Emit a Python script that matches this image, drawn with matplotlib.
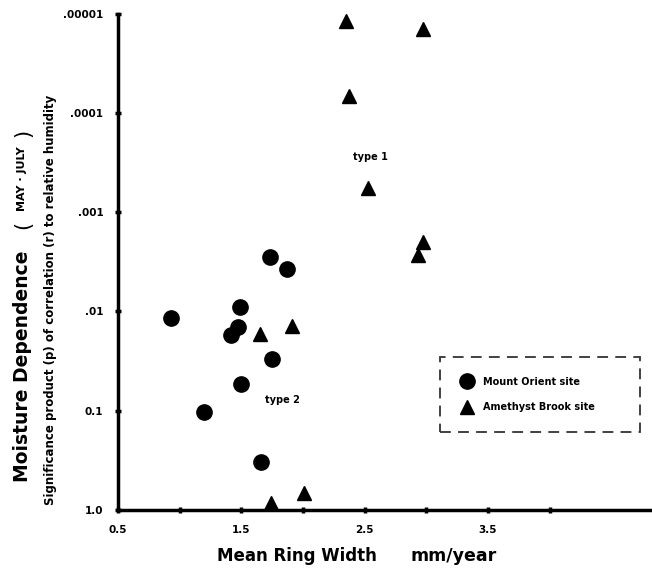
import numpy as np
import matplotlib
matplotlib.use("Agg")
import matplotlib.pyplot as plt

# Mount Orient site (circles): mean ring width (mm/yr), significance p
orient_width = [1.73, 1.87, 1.49, 0.93, 1.47, 1.42, 1.75, 1.50, 1.20, 1.66]
orient_p = [0.0028, 0.0037, 0.009, 0.0117, 0.0144, 0.0172, 0.030, 0.054, 0.102, 0.325]

# Amethyst Brook site (triangles)
brook_width = [2.35, 2.97, 2.37, 2.53, 2.97, 2.93, 1.65, 1.91, 2.01, 1.74]
brook_p = [1.17e-5, 1.42e-5, 6.8e-5, 5.7e-4, 0.0020, 0.0027, 0.0167, 0.0141, 0.68, 0.85]

ytick_vals = [1.0, 0.1, 0.01, 0.001, 0.0001, 0.00001]
ytick_labels = ['1.0', '0.1', '.01', '.001', '.0001', '.00001']
xtick_vals = [0.5, 1.0, 1.5, 2.0, 2.5, 3.0, 3.5, 4.0]
xtick_labels = ['0.5', '', '1.5', '', '2.5', '', '3.5', '']

fig = plt.figure(figsize=(6.52, 5.73), dpi=100)
ax = fig.add_axes([0.181, 0.110, 0.819, 0.866])

ax.plot(orient_width, orient_p, 'o', color='black', markersize=11, label='Mount Orient site', clip_on=False)
ax.plot(brook_width, brook_p, '^', color='black', markersize=10, label='Amethyst Brook site', clip_on=False)

ax.set_yscale('log')
ax.set_ylim(1.0, 1e-5)
ax.set_xlim(0.5, 4.83)
ax.minorticks_off()
ax.set_yticks(ytick_vals)
ax.set_yticklabels(ytick_labels)
ax.set_xticks(xtick_vals)
ax.set_xticklabels(xtick_labels)
ax.tick_params(direction='inout', length=5, width=2.5, labelsize=7.5, pad=8)
for lab in ax.get_xticklabels() + ax.get_yticklabels():
    lab.set_fontweight('heavy')

for s in ['top', 'right']:
    ax.spines[s].set_visible(False)
for s in ['left', 'bottom']:
    ax.spines[s].set_linewidth(2.5)

ax.text(2.55, 0.00028, 'type 1', fontsize=7, fontweight='bold', ha='center', va='center')
ax.text(1.83, 0.078, 'type 2', fontsize=7, fontweight='bold', ha='center', va='center')

leg = ax.legend(loc='upper left', bbox_to_anchor=(0.603, 0.157, 0.375, 0.151), mode='expand',
                prop={'weight': 'bold', 'size': 7},
                frameon=True, fancybox=False, edgecolor='black', borderpad=2.0, labelspacing=1.6,
                handletextpad=0.8, handlelength=1.6, borderaxespad=0)
leg.get_frame().set_linestyle((0, (6, 4)))
leg.get_frame().set_linewidth(1.3)

# axis titles
fig.text(0.034, 0.361, 'Moisture Dependence', rotation=90, fontsize=13.5, fontweight='bold', ha='center', va='center')
fig.text(0.036, 0.607, '(', rotation=90, fontsize=15, ha='center', va='center')
fig.text(0.034, 0.688, 'MAY · JULY', rotation=90, fontsize=8, fontweight='bold', ha='center', va='center')
fig.text(0.036, 0.768, ')', rotation=90, fontsize=15, ha='center', va='center')
fig.text(0.077, 0.476, 'Significance product (p) of correlation (r) to relative humidity', rotation=90,
         fontsize=8.5, fontweight='bold', ha='center', va='center')
fig.text(0.455, 0.030, 'Mean Ring Width', fontsize=12, fontweight='bold', ha='center', va='center')
fig.text(0.695, 0.030, 'mm/year', fontsize=12.5, fontweight='bold', ha='center', va='center')

fig.savefig('out.png', dpi=100)
